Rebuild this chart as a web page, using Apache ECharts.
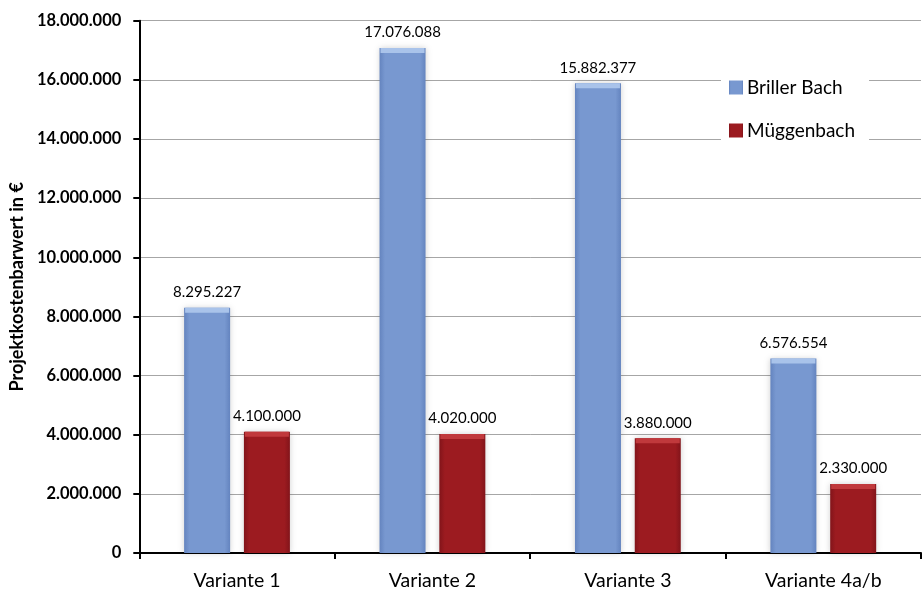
<!DOCTYPE html>
<html>
<head>
<meta charset="utf-8">
<script src="https://cdn.jsdelivr.net/npm/echarts@6/dist/echarts.min.js"></script>
<style>
  html, body { margin: 0; padding: 0; background: #fff; }
  #chart { width: 922px; height: 591px; }
</style>
</head>
<body>
<div id="chart"></div>
<script>
// Project cost present values per variant (EUR)
const categories = ['Variante 1', 'Variante 2', 'Variante 3', 'Variante 4a/b'];
const seriesNames = ['Briller Bach', 'Müggenbach'];
const brillerBach = [8295227, 17076088, 15882377, 6576554];
const mueggenbach = [4100000, 4020000, 3880000, 2330000];
const yTicks = { min: 0, max: 18000000, interval: 2000000 };

const FONT = 'Lato, "Open Sans", sans-serif';

// German number format: 1.234.567
function deFormat(v) {
  return String(Math.round(v)).replace(/\B(?=(\d{3})+(?!\d))/g, '.');
}

function sideGradient(edge, mid) {
  return new echarts.graphic.LinearGradient(0, 0, 1, 0, [
    { offset: 0, color: edge },
    { offset: 0.12, color: mid },
    { offset: 0.88, color: mid },
    { offset: 1, color: edge }
  ]);
}

const BAR_W = 46;
const BAR_GAP = '30%';

const chart = echarts.init(document.getElementById('chart'), null, { renderer: 'canvas' });

const option = {
  animation: false,
  backgroundColor: '#ffffff',
  grid: { left: 139, right: 1, top: 20.7, bottom: 37, containLabel: false },
  legend: {
    orient: 'vertical',
    left: 721,
    top: 70,
    padding: [8, 14, 8, 8],
    itemGap: 24,
    itemWidth: 14,
    itemHeight: 14,
    icon: 'rect',
    backgroundColor: '#ffffff',
    data: seriesNames,
    textStyle: { fontFamily: FONT, fontSize: 19, color: '#000', padding: [0, 0, 0, -1] }
  },
  xAxis: {
    type: 'category',
    data: categories,
    axisLine: { lineStyle: { color: '#000', width: 2 } },
    axisTick: { show: true, length: 6, lineStyle: { color: '#000', width: 2 } },
    axisLabel: { fontFamily: FONT, fontSize: 19.5, color: '#000', margin: 18 }
  },
  yAxis: {
    type: 'value',
    min: yTicks.min,
    max: yTicks.max,
    interval: yTicks.interval,
    name: 'Projektkostenbarwert in €',
    nameLocation: 'middle',
    nameGap: 111,
    nameTextStyle: { fontFamily: FONT, fontSize: 18, fontWeight: 'bold', color: '#000' },
    axisLine: { show: true, lineStyle: { color: '#000', width: 2 } },
    axisTick: { show: true, length: 6, lineStyle: { color: '#000', width: 2 } },
    splitLine: { lineStyle: { color: '#a6a6a6', width: 1 } },
    axisLabel: {
      fontFamily: FONT, fontSize: 16.5, fontWeight: 'bold', color: '#000', margin: 18,
      formatter: deFormat
    }
  },
  series: [
    {
      name: seriesNames[0],
      type: 'bar',
      data: brillerBach,
      barWidth: BAR_W,
      barGap: BAR_GAP,
      itemStyle: {
        color: sideGradient('#6484bf', '#7898d0'),
        shadowColor: 'rgba(0,0,0,0.18)', shadowBlur: 6
      },
      label: {
        show: true, position: 'top', distance: 8,
        fontFamily: FONT, fontSize: 15, color: '#000',
        formatter: p => deFormat(p.value)
      },
      z: 2
    },
    {
      name: seriesNames[1],
      type: 'bar',
      data: mueggenbach,
      barWidth: BAR_W,
      barGap: BAR_GAP,
      itemStyle: {
        color: sideGradient('#82141a', '#9c1b20'),
        shadowColor: 'rgba(0,0,0,0.18)', shadowBlur: 6
      },
      label: {
        show: true, position: 'top', distance: 8,
        fontFamily: FONT, fontSize: 15, color: '#000',
        formatter: p => deFormat(p.value)
      },
      z: 2
    },
    // lighter cap strip at the top of each bar
    {
      name: seriesNames[0],
      type: 'pictorialBar',
      data: brillerBach,
      barWidth: BAR_W,
      barGap: BAR_GAP,
      symbol: 'rect',
      symbolSize: [BAR_W - 2, 5],
      symbolPosition: 'end',
      symbolOffset: [0, 0],
      itemStyle: { color: '#a9c3ea' },
      silent: true,
      z: 3
    },
    {
      name: seriesNames[1],
      type: 'pictorialBar',
      data: mueggenbach,
      barWidth: BAR_W,
      barGap: BAR_GAP,
      symbol: 'rect',
      symbolSize: [BAR_W - 2, 5],
      symbolPosition: 'end',
      symbolOffset: [0, 0],
      itemStyle: { color: '#c0393c' },
      silent: true,
      z: 3
    }
  ]
};

chart.setOption(option);
</script>
</body>
</html>
